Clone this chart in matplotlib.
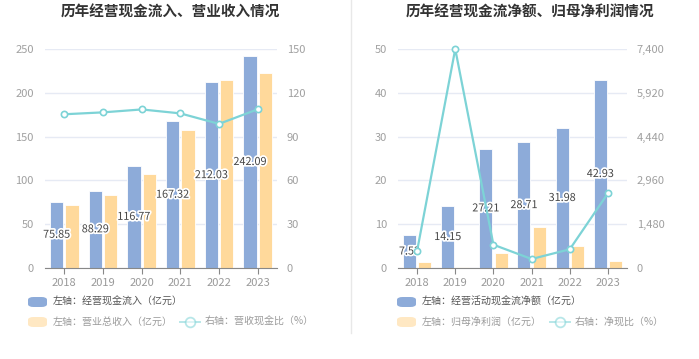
import numpy as np
import matplotlib
matplotlib.use('Agg')
import matplotlib.pyplot as plt
import matplotlib.patheffects as pe
from matplotlib.patches import FancyBboxPatch
from matplotlib.lines import Line2D
from matplotlib.ticker import FuncFormatter

plt.rcParams['font.family'] = ['Noto Sans CJK SC', 'DejaVu Sans']

years = ['2018', '2019', '2020', '2021', '2022', '2023']

# left chart
cash_in = [75.85, 88.29, 116.77, 167.32, 212.03, 242.09]
revenue = [72.0, 82.8, 107.5, 158.0, 214.8, 222.8]
cash_ratio = [105.3, 106.6, 108.6, 105.9, 98.7, 108.7]

# right chart
net_cash = [7.53, 14.15, 27.21, 28.71, 31.98, 42.93]
net_profit = [1.31, 0.19, 3.45, 9.45, 5.06, 1.70]
net_ratio = [575, 7400, 787, 304, 632, 2524]

BLUE = '#8dabd9'
ORANGE = '#ffd99b'
TEAL = '#7dd3d6'
GRID = '#e6eaf4'
TICK = '#a0a0a0'

W, H = 699, 359
fig = plt.figure(figsize=(W / 100, H / 100), dpi=100)


def fx(px):
    return px / W


def fy(py):
    return 1 - py / H


def draw_panel(x0, x1, title, title_x, bars1, bars2, line, lmax, rmax, rfmt, leg):
    ax = fig.add_axes([fx(x0), fy(268), fx(x1 - x0), fy(49) - fy(268)])
    x = np.arange(len(years))
    ax.bar(x - 0.2, bars1, width=0.34, color=BLUE, edgecolor='white', linewidth=0.6, zorder=2)
    ax.bar(x + 0.2, bars2, width=0.34, color=ORANGE, edgecolor='white', linewidth=0.6, zorder=2)
    for xi, v in zip(x, bars1):
        ax.text(xi - 0.2, v / 2, f'{v:.2f}', ha='center', va='center', fontsize=7.8,
                color='#444444', zorder=5,
                path_effects=[pe.withStroke(linewidth=2.5, foreground='white')])
    ax.set_xlim(-0.5, len(years) - 0.5)
    ax.set_ylim(0, lmax)
    ax.set_yticks(np.linspace(0, lmax, 6))
    ax.yaxis.grid(True, color=GRID, linewidth=1)
    ax.set_axisbelow(True)
    ax.set_xticks(x)
    ax.set_xticklabels(years)
    for s in ['top', 'right', 'left']:
        ax.spines[s].set_visible(False)
    ax.spines['bottom'].set_color('#888888')
    ax.tick_params(axis='x', colors=TICK, labelsize=8, length=4, color='#888888', pad=3)
    ax.tick_params(axis='y', colors=TICK, labelsize=8, length=0, pad=8)
    for t in ax.get_xticklabels():
        t.set_color('#999999')

    ax2 = ax.twinx()
    ax2.plot(x, line, color=TEAL, linewidth=1.6, marker='o', markersize=4.5,
             markerfacecolor='white', markeredgecolor=TEAL, markeredgewidth=1.2, zorder=4,
             clip_on=False)
    ax2.set_ylim(0, rmax)
    ax2.set_yticks(np.linspace(0, rmax, 6))
    ax2.yaxis.set_major_formatter(FuncFormatter(rfmt))
    for s in ['top', 'right', 'left', 'bottom']:
        ax2.spines[s].set_visible(False)
    ax2.tick_params(axis='y', colors=TICK, labelsize=8, length=0, pad=7)

    fig.text(fx(title_x), fy(12), title, ha='center', va='center', fontsize=10.5,
             fontweight='bold', color='#333333')

    # legend
    lx, l2x = leg
    for row_y, color, alpha in [(302, BLUE, 1.0), (322, ORANGE, 0.6)]:
        p = FancyBboxPatch((fx(lx), fy(row_y + 5)), fx(19), fy(row_y - 5) - fy(row_y + 5),
                           boxstyle='round,pad=0,rounding_size=0.008',
                           transform=fig.transFigure, facecolor=color, alpha=alpha,
                           edgecolor='none')
        fig.add_artist(p)
    fig.add_artist(Line2D([fx(l2x), fx(l2x + 20)], [fy(322), fy(322)], transform=fig.transFigure,
                          color=TEAL, alpha=0.55, linewidth=1.4))
    fig.add_artist(Line2D([fx(l2x + 10)], [fy(322)], transform=fig.transFigure, color=TEAL,
                          alpha=0.55, marker='o', markersize=7, markerfacecolor='white',
                          markeredgewidth=1.3, linestyle='none'))
    return ax


def draw_legend_text(lx, l2x, t1, t2, t3):
    fig.text(fx(lx + 25), fy(302), t1, ha='left', va='center', fontsize=7.2, color='#555555')
    fig.text(fx(lx + 25), fy(322), t2, ha='left', va='center', fontsize=7.2, color='#9a9a9a')
    fig.text(fx(l2x + 25), fy(322), t3, ha='left', va='center', fontsize=7.2, color='#9a9a9a')


draw_panel(45, 277, '历年经营现金流入、营业收入情况', 170, cash_in, revenue, cash_ratio,
           250, 150, lambda v, p: f'{v:.0f}', (28, 180))
draw_legend_text(28, 180, '左轴：经营现金流入（亿元）', '左轴：营业总收入（亿元）', '右轴：营收现金比（%）')

draw_panel(398, 627, '历年经营现金流净额、归母净利润情况', 530, net_cash, net_profit, net_ratio,
           50, 7400, lambda v, p: f'{v:,.0f}', (397, 550))
draw_legend_text(397, 550, '左轴：经营活动现金流净额（亿元）', '左轴：归母净利润（亿元）', '右轴：净现比（%）')

# divider
fig.add_artist(Line2D([fx(351), fx(351)], [fy(0), fy(333)], transform=fig.transFigure,
                      color='#e8e8e8', linewidth=1))

fig.savefig('out.png', dpi=100)
